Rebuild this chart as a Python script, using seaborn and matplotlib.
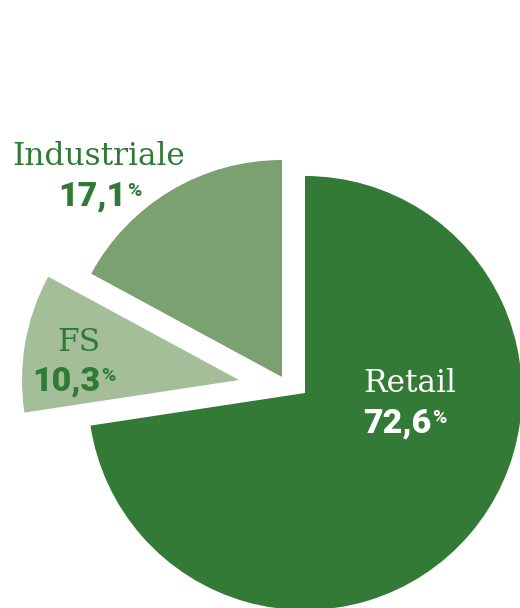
import matplotlib
matplotlib.use("Agg")
import matplotlib.pyplot as plt
import seaborn as sns

# Share of business by segment
segments = ["Retail", "FS", "Industriale"]
shares = [72.6, 10.3, 17.1]

slice_colors = ["#327a36", "#a3be98", "#7ba170"]
text_green = "#2f7a35"

sns.set_theme(style="white")
plt.rcParams["font.family"] = ["DejaVu Serif"]

W, H = 520, 608
fig = plt.figure(figsize=(W / 100, H / 100), dpi=100)
ax = fig.add_axes([0, 0, 1, 1])

radius = 217
wedges, _ = ax.pie(
    shares,
    colors=slice_colors,
    startangle=90,
    counterclock=False,
    radius=radius,
    center=(305, 215),
    wedgeprops=dict(linewidth=0),
    frame=True,
)
ax.set_xlim(0, W)
ax.set_ylim(0, H)
ax.set_aspect("equal")
ax.axis("off")

# each slice pulled apart from the others by its own offset
slice_centers = {"Retail": (305, 215), "FS": (239, 228), "Industriale": (282, 231)}
for w, name in zip(wedges, segments):
    w.set_center(slice_centers[name])

label_pos = {
    "Retail": ((363, 216), (363, 176), "white"),
    "FS": ((57, 257), (32, 218), text_green),
    "Industriale": ((12, 443), (58, 403), text_green),
}

num_font = ["Roboto", "DejaVu Sans"]
numbers = []
for name, val in zip(segments, shares):
    (lx, ly), (nx, ny), col = label_pos[name]
    ax.text(lx, ly, name, fontsize=22.5, color=col, ha="left", va="baseline",
            family=["DejaVu Serif"])
    num = ax.text(nx, ny, f"{val:.1f}".replace(".", ","), fontsize=24.5,
                  fontweight="black", color=col, ha="left", va="baseline",
                  family=num_font)
    numbers.append((num, nx, ny, col))

# superscript percent sign right after each number
fig.canvas.draw()
renderer = fig.canvas.get_renderer()
inv = ax.transData.inverted()
for num, nx, ny, col in numbers:
    bb = num.get_window_extent(renderer)
    x_right = inv.transform((bb.x1, bb.y0))[0]
    ax.text(x_right + 1, ny + 9, "%", fontsize=14, fontweight="bold",
            color=col, ha="left", va="baseline", family=num_font)

fig.savefig("out.png", dpi=100, facecolor="white")
